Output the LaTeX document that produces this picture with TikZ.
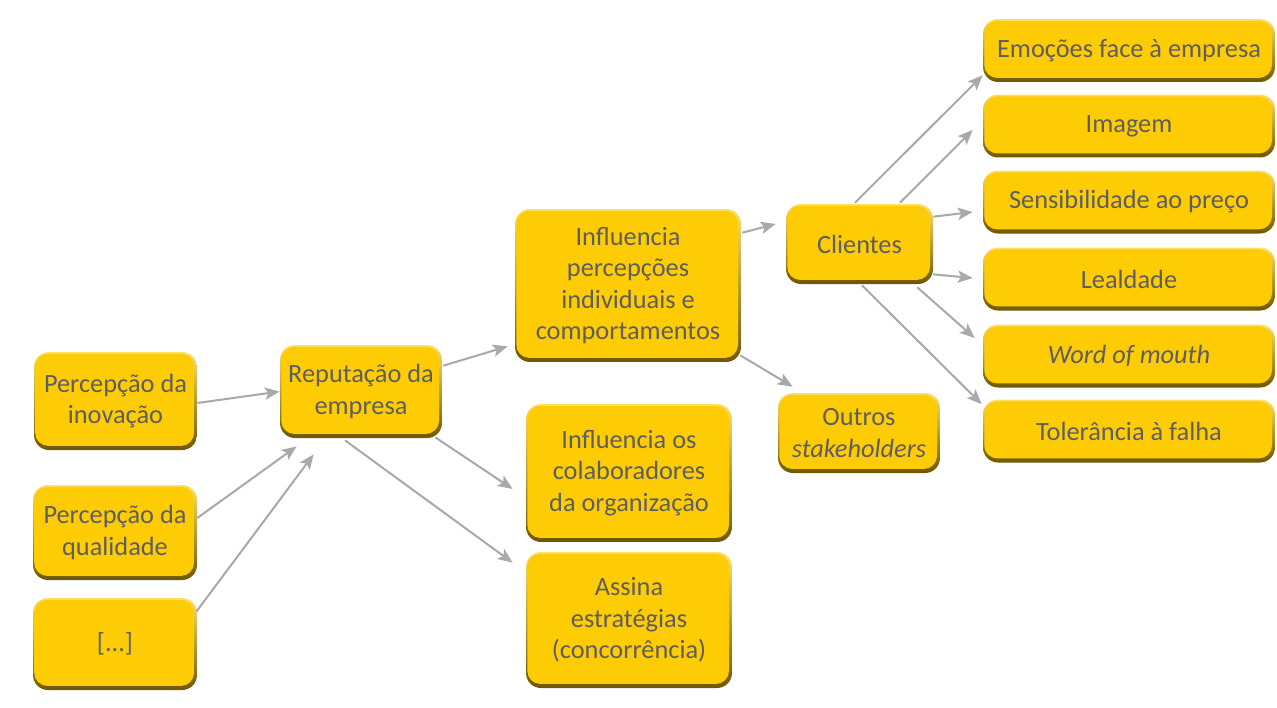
\documentclass[tikz,border=0pt]{standalone}
\usepackage{fontspec}
\setmainfont{Carlito}
\usetikzlibrary{arrows.meta,calc}

\definecolor{boxgold}{HTML}{FECC04}
\definecolor{edgetop}{HTML}{FFE066}
\definecolor{edgebot}{HTML}{6E5700}
\definecolor{txtgray}{HTML}{5E5E5E}
\definecolor{arrgray}{HTML}{A9A9AD}

\tikzset{
  box/.style={
    rounded corners=8.5pt, inner sep=2pt, align=center,
    text=txtgray, font=\fontsize{15pt}{17.8pt}\selectfont,
    top color=edgetop, bottom color=edgebot,
    path picture={
      \fill[boxgold, rounded corners=7.5pt]
        ([xshift=0.7pt,yshift=2.3pt]path picture bounding box.south west)
        rectangle ([xshift=-1.7pt,yshift=-1.0pt]path picture bounding box.north east);
    }
  },
  arr/.style={draw=arrgray, line width=1.15pt,
    -{Stealth[length=8.5pt,width=7pt,inset=2pt]}}
}

\begin{document}
\begin{tikzpicture}[x=0.02cm,y=-0.02cm]
\useasboundingbox (0,0) rectangle (1277,707);

% left column: inputs
\node[box, minimum width=3.26cm, minimum height=1.96cm] (inov) at (115.5,401) {Percepção da\\inovação};
\node[box, minimum width=3.28cm, minimum height=1.90cm] (qual) at (115,532.5) {Percepção da\\qualidade};
\node[box, minimum width=3.28cm, minimum height=1.84cm] (etc)  at (115,644) {[...]};

% centre
\node[box, minimum width=3.24cm, minimum height=1.86cm] (rep) at (361,391.5) {Reputação da\\empresa};

% effects
\node[box, minimum width=4.52cm, minimum height=3.06cm] (infl)   at (628,285.5) {Influencia\\percepções\\individuais e\\comportamentos};
\node[box, minimum width=4.12cm, minimum height=2.76cm] (colab)  at (629,473) {Influencia os\\colaboradores\\da organização};
\node[box, minimum width=4.12cm, minimum height=2.72cm] (assina) at (629,620) {Assina\\estratégias\\(concorrência)};

% stakeholders
\node[box, minimum width=2.94cm, minimum height=1.60cm] (cli)    at (859.5,244) {Clientes};
\node[box, minimum width=3.24cm, minimum height=1.60cm] (outros) at (859,433) {Outros\\\textit{stakeholders}};

% customer outcomes
\node[box, minimum width=5.84cm, minimum height=1.26cm] (r1) at (1129,50.5) {Emoções face à empresa};
\node[box, minimum width=5.84cm, minimum height=1.26cm] (r2) at (1129,126) {Imagem};
\node[box, minimum width=5.84cm, minimum height=1.26cm] (r3) at (1129,202) {Sensibilidade ao preço};
\node[box, minimum width=5.84cm, minimum height=1.26cm] (r4) at (1129,279) {Lealdade};
\node[box, minimum width=5.84cm, minimum height=1.26cm] (r5) at (1129,356) {\textit{Word of mouth}};
\node[box, minimum width=5.84cm, minimum height=1.26cm] (r6) at (1129,431) {Tolerância à falha};

% connectors
\draw[arr] ($(inov.east)+(0,2)$) -- (rep.west);
\draw[arr] ($(qual.east)+(0,-14.5)$) -- ($(rep.south west)+(17,8)$);
\draw[arr] ($(etc.north east)+(-1,14)$) -- ($(rep.south west)+(34,16)$);

\draw[arr] ($(rep.north east)+(1,21)$) -- ($(infl.south west)+(-7,-16)$);
\draw[arr] ($(rep.south east)+(-7,-1)$) -- ($(colab.west)+(-13,16)$);
\draw[arr] ($(rep.south)+(-16,2)$) -- ($(assina.north west)+(-13,11)$);

\draw[arr] ($(infl.north east)+(1,24)$) -- ($(cli.west)+(-10,-20)$);
\draw[arr] ($(infl.south east)+(-1,-7)$) -- ($(outros.north west)+(15,-6)$);

\draw[arr] ($(cli.north)+(-4.5,-1)$) -- ($(r1.south west)+(0,-7)$);
\draw[arr] ($(cli.north)+(40.5,-1)$) -- ($(r2.west)+(-10,4)$);
\draw[arr] ($(cli.north east)+(0,13)$) -- ($(r3.west)+(-10,10)$);
\draw[arr] ($(cli.south east)+(0,-10)$) -- ($(r4.west)+(-10,-1)$);
\draw[arr] ($(cli.south east)+(-16,3)$) -- ($(r5.west)+(-8,-18)$);
\draw[arr] ($(cli.south)+(2.5,1)$) -- ($(r6.north west)+(-1,5)$);
\end{tikzpicture}
\end{document}
